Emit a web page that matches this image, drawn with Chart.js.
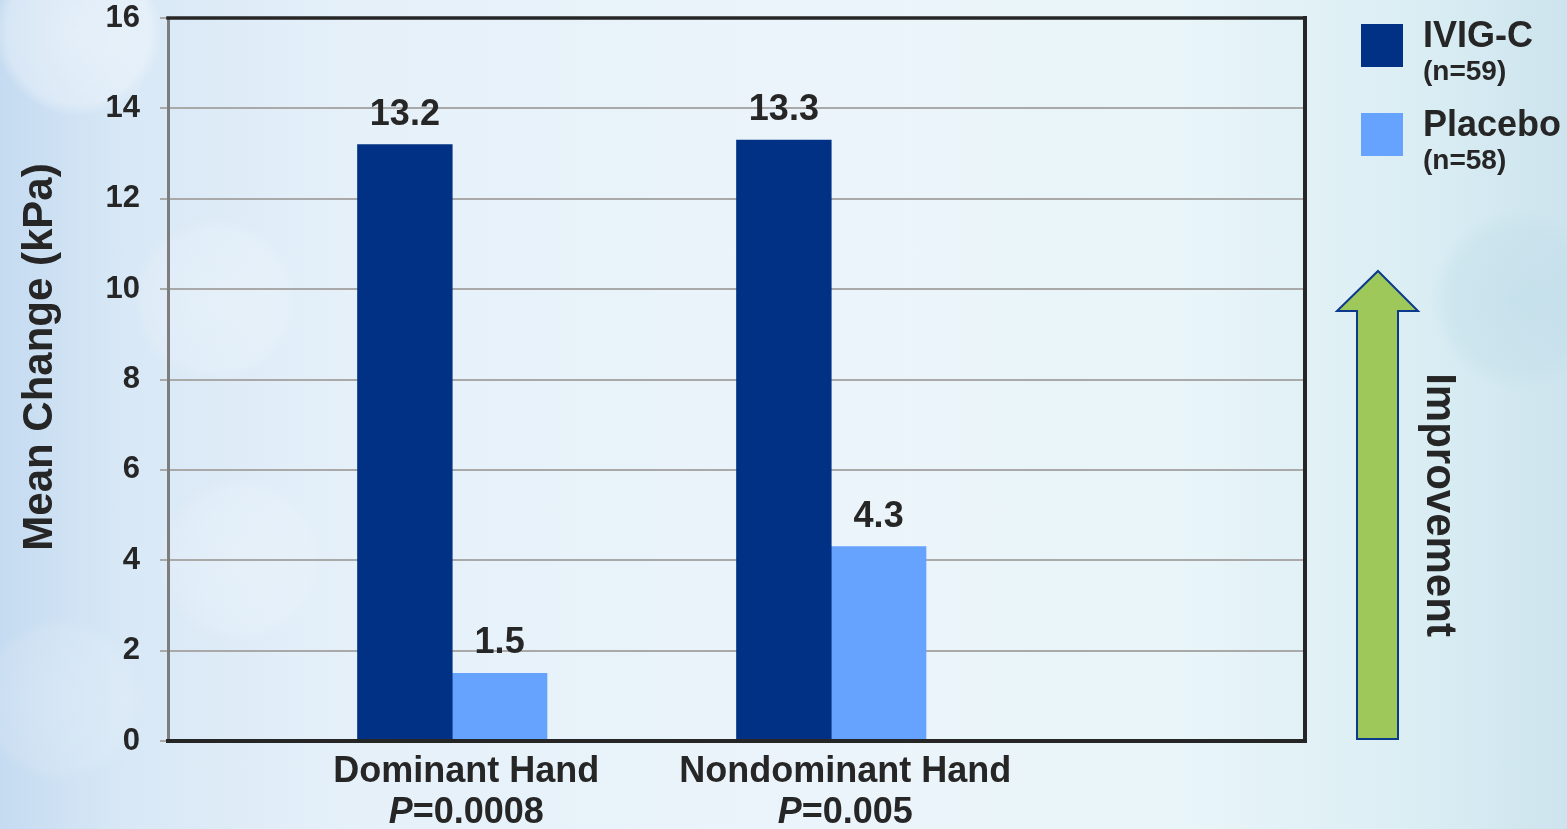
<!DOCTYPE html>
<html>
<head>
<meta charset="utf-8">
<title>Mean Change (kPa)</title>
<script src="https://cdn.jsdelivr.net/npm/chart.js@4/dist/chart.umd.min.js"></script>
<style>
  html, body { margin: 0; padding: 0; width: 1567px; height: 829px; overflow: hidden; }
  body {
    background:
      radial-gradient(circle at 78px 32px, rgba(255,255,255,0.42) 0, rgba(255,255,255,0.30) 72px, rgba(255,255,255,0) 84px),
      radial-gradient(circle at 215px 300px, rgba(255,255,255,0.22) 0, rgba(255,255,255,0.14) 70px, rgba(255,255,255,0) 82px),
      radial-gradient(circle at 240px 560px, rgba(255,255,255,0.20) 0, rgba(255,255,255,0.12) 70px, rgba(255,255,255,0) 82px),
      radial-gradient(circle at 60px 700px, rgba(255,255,255,0.18) 0, rgba(255,255,255,0.10) 70px, rgba(255,255,255,0) 82px),
      radial-gradient(circle at 1520px 300px, rgba(190,220,232,0.55) 0, rgba(190,220,232,0.35) 70px, rgba(190,220,232,0) 90px),
      linear-gradient(90deg, #c5dbf1 0%, #d8e8f6 8%, #e5f0f9 22%, #ebf4fa 50%, #e9f5f9 75%, #dbeef4 90%, #cde4ee 100%);
  }
  #wrap { position: absolute; left: 0; top: 0; width: 1567px; height: 829px; }
</style>
</head>
<body>
<div id="wrap"><canvas id="chart" width="1567" height="829"></canvas></div>
<script>
// Grip strength: mean change from baseline (kPa)
const categories   = ['Dominant Hand', 'Nondominant Hand'];
const pValues      = ['0.0008', '0.005'];
const seriesNames  = ['IVIG-C', 'Placebo'];
const seriesCounts = [59, 58];
const ivigValues    = [13.2, 13.3];
const placeboValues = [1.5, 4.3];
const yTicks = { min: 0, max: 16, step: 2 };

const seriesColors = ['#003185', '#66a3ff'];
const TEXT = '#262626';
const FONT = '"Liberation Sans", Arial, Helvetica, sans-serif';

// The category axis has six slots; each group occupies every other slot
const SLOT_COUNT = 6;
const slotOf = i => 2 * i + 1;
const slotLabels = Array(SLOT_COUNT).fill('');
categories.forEach((c, i) => { slotLabels[slotOf(i)] = c; });
function toSlots(values) {
  const out = Array(SLOT_COUNT).fill(null);
  values.forEach((v, i) => { out[slotOf(i)] = v; });
  return out;
}

const LABEL_SHIFT = 14;

// Frame: black top, right and bottom edges of the plot area
const framePlugin = {
  id: 'frame',
  afterDatasetsDraw(chart) {
    const { ctx, chartArea: a } = chart;
    ctx.save();
    ctx.strokeStyle = TEXT;
    ctx.lineCap = 'square';
    ctx.lineWidth = 3.5;
    ctx.beginPath();
    ctx.moveTo(a.left, a.top);
    ctx.lineTo(a.right, a.top);
    ctx.stroke();
    ctx.lineWidth = 4;
    ctx.beginPath();
    ctx.moveTo(a.right, a.top);
    ctx.lineTo(a.right, a.bottom);
    ctx.moveTo(a.left, a.bottom);
    ctx.lineTo(a.right, a.bottom);
    ctx.stroke();
    ctx.restore();
  }
};

// Value printed above every bar
const valueLabelPlugin = {
  id: 'valueLabels',
  afterDatasetsDraw(chart) {
    const { ctx } = chart;
    ctx.save();
    ctx.font = 'bold 36px ' + FONT;
    ctx.fillStyle = TEXT;
    ctx.textAlign = 'center';
    ctx.textBaseline = 'alphabetic';
    chart.data.datasets.forEach((ds, di) => {
      chart.getDatasetMeta(di).data.forEach((bar, i) => {
        const v = ds.data[i];
        if (v == null) return;
        ctx.fillText(v.toFixed(1), bar.x, bar.y - 20);
      });
    });
    ctx.restore();
  }
};

// P-value line under each category name, with an italic P
const pValuePlugin = {
  id: 'pValues',
  afterDraw(chart) {
    const { ctx } = chart;
    const x = chart.scales.x;
    ctx.save();
    ctx.fillStyle = TEXT;
    ctx.textBaseline = 'alphabetic';
    ctx.textAlign = 'left';
    categories.forEach((c, i) => {
      const cx = x.getPixelForTick(slotOf(i)) + LABEL_SHIFT;
      const italic = 'italic bold 36px ' + FONT;
      const bold = 'bold 36px ' + FONT;
      const rest = '=' + pValues[i];
      ctx.font = italic;
      const wP = ctx.measureText('P').width;
      ctx.font = bold;
      const wR = ctx.measureText(rest).width;
      const x0 = cx - (wP + wR) / 2;
      ctx.font = italic;
      ctx.fillText('P', x0, 823);
      ctx.font = bold;
      ctx.fillText(rest, x0 + wP, 823);
    });
    ctx.restore();
  }
};

// Y-axis title, legend and the "Improvement" arrow
const decorPlugin = {
  id: 'decor',
  afterDraw(chart) {
    const { ctx } = chart;
    ctx.save();
    ctx.fillStyle = TEXT;

    // axis title
    ctx.save();
    ctx.translate(52, 357);
    ctx.rotate(-Math.PI / 2);
    ctx.font = 'bold 42px ' + FONT;
    ctx.textAlign = 'center';
    ctx.textBaseline = 'alphabetic';
    ctx.fillText('Mean Change (kPa)', 0, 0);
    ctx.restore();

    // legend
    const lx = 1361, sw = 42, sh = 43;
    const rows = [24, 113];
    seriesNames.forEach((name, i) => {
      const top = rows[i];
      ctx.fillStyle = seriesColors[i];
      ctx.fillRect(lx, top, sw, sh);
      ctx.fillStyle = TEXT;
      ctx.textAlign = 'left';
      ctx.textBaseline = 'alphabetic';
      ctx.font = 'bold 36px ' + FONT;
      ctx.fillText(name, 1423, top + 23);
      ctx.font = 'bold 28px ' + FONT;
      ctx.fillText('(n=' + seriesCounts[i] + ')', 1423, top + 56);
    });

    // arrow
    ctx.beginPath();
    ctx.moveTo(1378, 271);
    ctx.lineTo(1418, 311);
    ctx.lineTo(1398, 311);
    ctx.lineTo(1398, 739);
    ctx.lineTo(1357, 739);
    ctx.lineTo(1357, 311);
    ctx.lineTo(1337, 311);
    ctx.closePath();
    ctx.fillStyle = '#9fc85b';
    ctx.fill();
    ctx.lineWidth = 2;
    ctx.strokeStyle = '#0b3a8c';
    ctx.lineJoin = 'miter';
    ctx.stroke();

    ctx.save();
    ctx.translate(1427, 505);
    ctx.rotate(Math.PI / 2);
    ctx.font = 'bold 42px ' + FONT;
    ctx.fillStyle = TEXT;
    ctx.textAlign = 'center';
    ctx.textBaseline = 'alphabetic';
    ctx.fillText('Improvement', 0, 0);
    ctx.restore();

    ctx.restore();
  }
};

new Chart(document.getElementById('chart'), {
  type: 'bar',
  data: {
    labels: slotLabels,
    datasets: [
      { label: seriesNames[0], data: toSlots(ivigValues), backgroundColor: seriesColors[0] },
      { label: seriesNames[1], data: toSlots(placeboValues), backgroundColor: seriesColors[1] }
    ]
  },
  options: {
    responsive: false,
    animation: false,
    layout: { padding: { top: 18, right: 262, bottom: 0, left: 0 } },
    datasets: { bar: { categoryPercentage: 1, barPercentage: 1, borderWidth: 0 } },
    plugins: { legend: { display: false }, tooltip: { enabled: false } },
    scales: {
      x: {
        grid: { display: false, drawTicks: false },
        border: { display: false },
        ticks: {
          autoSkip: false, maxRotation: 0, padding: 9, labelOffset: LABEL_SHIFT,
          color: TEXT, font: { family: FONT, size: 36, weight: 'bold' }
        },
        afterFit(scale) { scale.height = 88; scale.paddingLeft = 0; scale.paddingRight = 0; }
      },
      y: {
        min: yTicks.min, max: yTicks.max,
        ticks: {
          stepSize: yTicks.step, padding: 20,
          color: TEXT, font: { family: FONT, size: 31, weight: 'bold' }
        },
        grid: { color: '#a9a9a9', lineWidth: 2, tickLength: 8, tickColor: '#a9a9a9' },
        border: { color: '#7d7d7d', width: 3 },
        afterFit(scale) { scale.width = 168; scale.paddingTop = 0; scale.paddingBottom = 0; }
      }
    }
  },
  plugins: [framePlugin, valueLabelPlugin, pValuePlugin, decorPlugin]
});
</script>
</body>
</html>
